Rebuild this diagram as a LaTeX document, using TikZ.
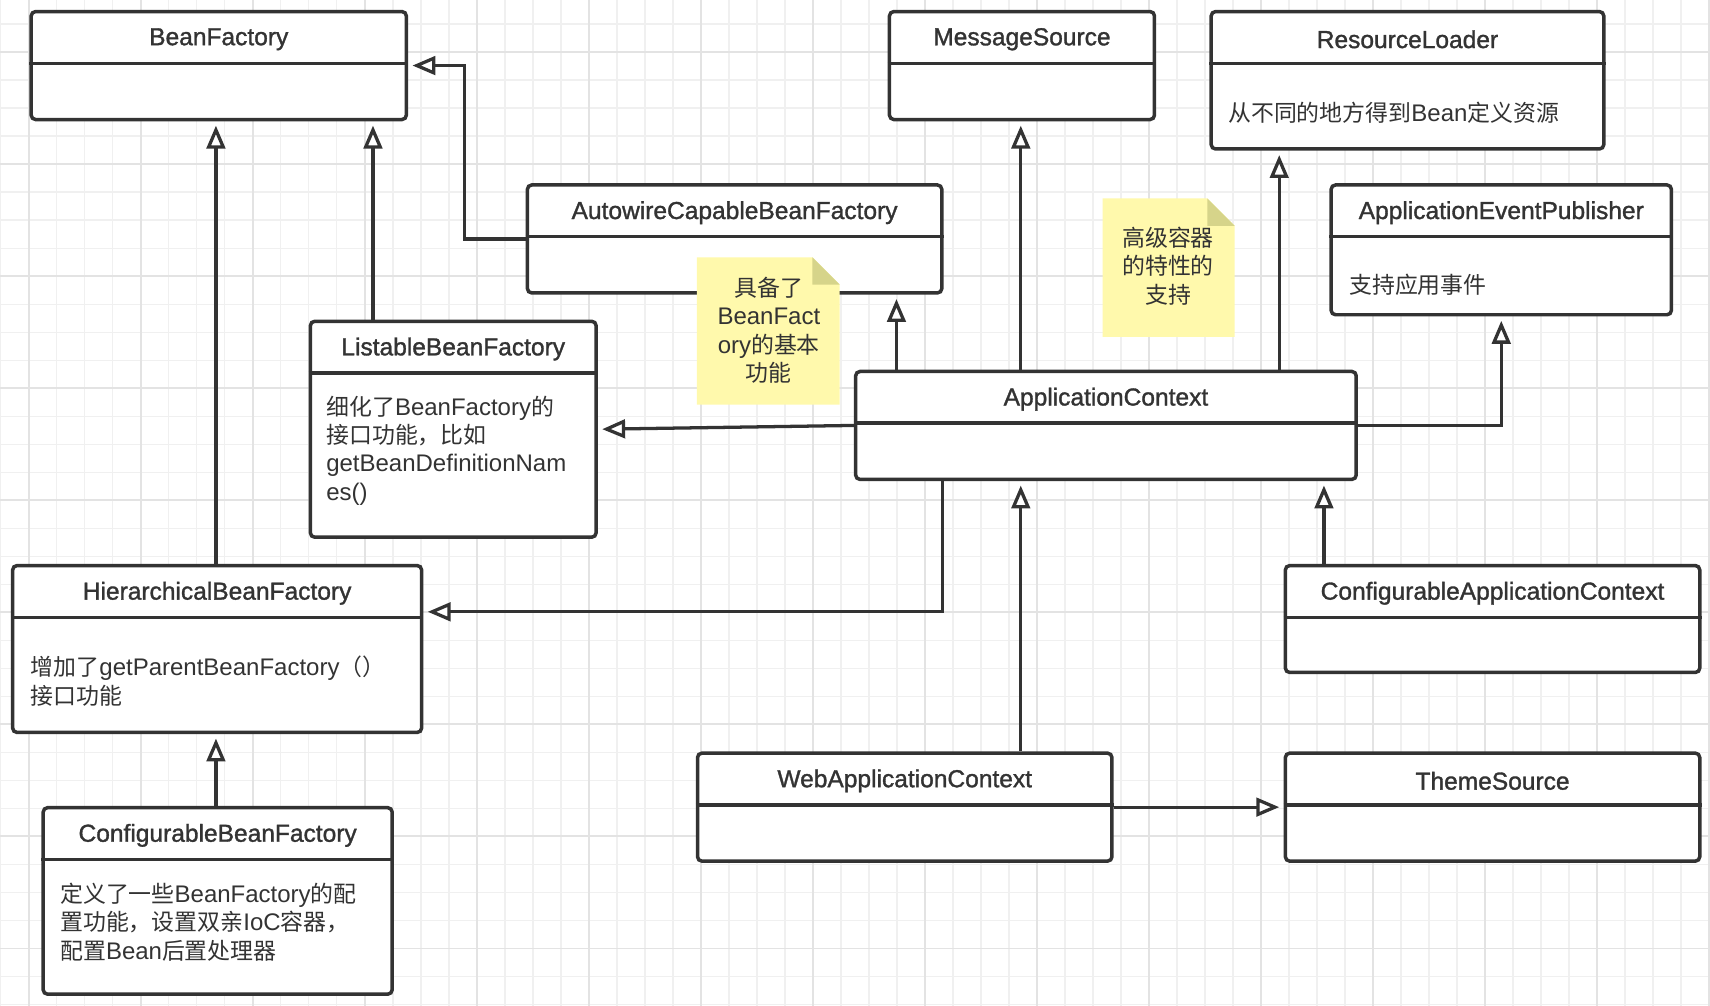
\documentclass[tikz,border=0pt]{standalone}
\usepackage{fontspec}
\setmainfont{Noto Sans CJK SC}
\newfontfamily\latfont{Liberation Sans}
\newfontfamily\hdrfont{Liberation Sans}[FakeBold=1.3]
\usetikzlibrary{arrows.meta,calc}
\definecolor{linec}{HTML}{333333}
\definecolor{txtc}{HTML}{333333}
\definecolor{gridminor}{HTML}{F0F0F0}
\definecolor{gridmajor}{HTML}{E3E3E3}
\definecolor{notefill}{HTML}{FFF9AC}
\definecolor{notefold}{HTML}{D6D48A}
\newcommand{\lt}[1]{{\latfont\fontsize{22}{26}\selectfont #1}}
\tikzset{
  cls/.style={draw=linec, line width=3.2pt, rounded corners=4pt, fill=white, anchor=north west, inner sep=0pt},
  divider/.style={draw=linec, line width=3.2pt},
  hdr/.style={inner sep=0pt, text=txtc, font=\hdrfont\fontsize{22.5}{26}\selectfont},
  body/.style={anchor=west, align=left, inner sep=0pt, text=txtc, font=\fontsize{21}{26}\selectfont},
  notetext/.style={align=center, inner sep=0pt, text=txtc, font=\fontsize{21}{26}\selectfont},
  inh/.style={draw=linec, line width=3pt, -{Triangle[fill=white, length=21pt, width=17pt]}, shorten >=4pt},
  minorgrid/.style={draw=gridminor, line width=1.2pt},
  majorgrid/.style={draw=gridmajor, line width=1.3pt}
}
\newcommand{\classbox}[6]{%
  \node[cls, minimum width=#4pt, minimum height=#5pt] (#1) at (#2,#3) {};
  \draw[divider] ([yshift=-49pt]#1.north west) -- ([yshift=-49pt]#1.north east);
  \node[hdr] (#1-t) at ([yshift=-27pt]#1.north) {#6};
}
\begin{document}
\begin{tikzpicture}[x=1pt,y=-1pt]
\useasboundingbox (0,0) rectangle (1568,922);
\fill[white] (0,0) rectangle (1568,922);
% grid
\foreach \i in {0,...,61} \draw[minorgrid] ({0.7+25.68*\i},0) -- ({0.7+25.68*\i},922);
\foreach \i in {0,...,35} \draw[minorgrid] (0,{22.1+25.68*\i}) -- (1568,{22.1+25.68*\i});
\foreach \i in {0,...,15} \draw[majorgrid] ({26.4+102.72*\i},0) -- ({26.4+102.72*\i},922);
\foreach \i in {0,...,8} \draw[majorgrid] (0,{47.7+102.72*\i}) -- (1568,{47.7+102.72*\i});

% classes
\classbox{bf}{27}{9}{344}{99}{BeanFactory}
\classbox{ms}{814}{9}{243}{99}{MessageSource}
\classbox{rl}{1109}{9}{360}{126}{ResourceLoader}
\classbox{aw}{482}{168}{380}{99}{AutowireCapableBeanFactory}
\classbox{aep}{1219}{168}{312}{119}{ApplicationEventPublisher}
\classbox{lbf}{283}{293}{262}{198}{ListableBeanFactory}
\classbox{ac}{783}{339}{459}{99}{ApplicationContext}
\classbox{hbf}{10}{517}{375}{153}{HierarchicalBeanFactory}
\classbox{cac}{1177}{517}{380}{98}{ConfigurableApplicationContext}
\classbox{cbf}{38}{739}{320}{171}{ConfigurableBeanFactory}
\classbox{wac}{638}{689}{380}{99}{WebApplicationContext}
\classbox{ts}{1177}{689}{380}{99}{ThemeSource}

% body texts
\node[body] (rl-b) at (1126,103) {从不同的地方得到\lt{Bean}定义资源};
\node[body] (aep-b) at (1237,261) {支持应用事件};
\node[body] (lbf-b) at (299,413) {细化了\lt{BeanFactory}的\\接口功能，比如\\\lt{getBeanDefinitionNam}\\\lt{es()}};
\node[body] (hbf-b) at (28,624.5) {增加了\lt{getParentBeanFactory}（）\\接口功能};
\node[body] (cbf-b) at (55,845.5) {定义了一些\lt{BeanFactory}的配\\置功能，设置双亲\lt{IoC}容器，\\配置\lt{Bean}后置处理器};

% helper coordinates
\coordinate (x198) at (198,0);
\coordinate (x342) at (342,0);
\coordinate (x426) at (426,0);
\coordinate (x822) at (822,0);
\coordinate (x864) at (864,0);
\coordinate (x936) at (936,0);
\coordinate (x1173) at (1173,0);
\coordinate (x1214) at (1214,0);
\coordinate (y561) at (0,561);

% connectors
\draw[inh] (x198 |- hbf.north) -- (x198 |- bf.south);
\draw[inh] (x342 |- lbf.north) -- (x342 |- bf.south);
\draw[inh] (aw.west) -| (x426 |- bf.east) -- (bf.east);
\draw[inh] (x822 |- ac.north) -- (x822 |- aw.south);
\draw[inh] (x936 |- ac.north) -- (x936 |- ms.south);
\draw[inh] (x1173 |- ac.north) -- (x1173 |- rl.south);
\draw[inh] (ac.east) -| (aep.south);
\draw[inh] (ac.west) -- (lbf.east);
\draw[inh] (x864 |- ac.south) |- (hbf.east |- y561);
\draw[inh] (x936 |- wac.north) -- (x936 |- ac.south);
\draw[inh] (x1214 |- cac.north) -- (x1214 |- ac.south);
\draw[inh] (x198 |- cbf.north) -- (x198 |- hbf.south);
\draw[inh] (wac.east) -- (ts.west);

% notes
\fill[notefill] (639,236) -- (745,236) -- (770,261) -- (770,371) -- (639,371) -- cycle;
\fill[notefold] (745,236) -- (745,261) -- (770,261) -- cycle;
\node[notetext] (n1) at (705,303) {具备了\\\lt{BeanFact}\\\lt{ory}的基本\\功能};
\fill[notefill] (1011,182) -- (1107,182) -- (1132,207) -- (1132,309) -- (1011,309) -- cycle;
\fill[notefold] (1107,182) -- (1107,207) -- (1132,207) -- cycle;
\node[notetext] (n2) at (1071,244) {高级容器\\的特性的\\支持};
\end{tikzpicture}
\end{document}
